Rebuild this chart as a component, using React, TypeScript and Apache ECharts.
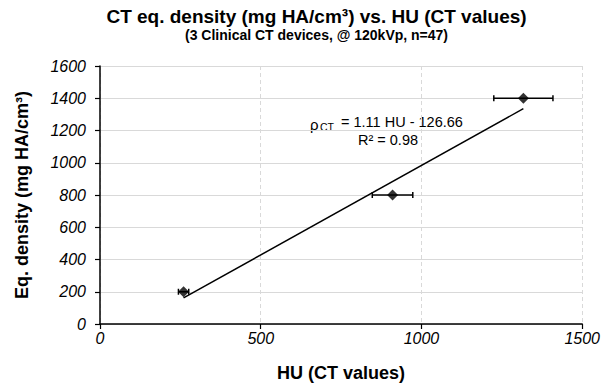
import React, { useEffect, useRef } from "react";
import * as echarts from "echarts";

const huValues = [260, 910, 1317];
const densityValues = [200, 800, 1400];
const huErrors = [16, 63, 92];
const trendSlope = 1.11;
const trendIntercept = -126.66;
const rSquared = 0.98;

const titleText = "CT eq. density (mg HA/cm³) vs. HU (CT values)";
const subtitleText = "(3 Clinical CT devices, @ 120kVp, n=47)";
const xAxisName = "HU (CT values)";
const yAxisName = "Eq. density (mg HA/cm³)";

const FONT = "Arial, 'Liberation Sans', sans-serif";

export default function App() {
  const ref = useRef<HTMLDivElement>(null);

  useEffect(() => {
    document.body.style.margin = "0";
    const chart = echarts.init(ref.current!, null, { renderer: "svg" });

    const points = huValues.map((x, i) => [x, densityValues[i]]);
    const errData = huValues.map((x, i) => [x, densityValues[i], huErrors[i]]);
    const xMin = Math.min(...huValues);
    const xMax = Math.max(...huValues);
    const trend = [
      [xMin, trendSlope * xMin + trendIntercept],
      [xMax, trendSlope * xMax + trendIntercept],
    ];

    const txt = (x: number, y: number, text: string, size: number, extra: any = {}) => ({
      type: "text",
      x,
      y,
      style: {
        text,
        fontFamily: FONT,
        fontSize: size,
        fill: "#000",
        align: "left",
        verticalAlign: "middle",
        ...extra,
      },
    });

    const italicLabel = {
      fontFamily: FONT,
      fontSize: 16,
      fontStyle: "oblique",
      color: "#000",
      formatter: (v: number) => String(v),
    };

    chart.setOption({
      animation: false,
      backgroundColor: "#fff",
      textStyle: { fontFamily: FONT },
      grid: { left: 100, top: 66, width: 485, height: 258, containLabel: false },
      xAxis: {
        type: "value",
        min: 0,
        max: 1500,
        interval: 500,
        name: xAxisName,
        nameLocation: "middle",
        nameGap: 40,
        nameTextStyle: { fontFamily: FONT, fontSize: 18, fontWeight: "bold", color: "#000" },
        axisLine: { onZero: false, lineStyle: { color: "#000", width: 1.5 } },
        axisTick: { show: true, inside: false, length: 5, lineStyle: { color: "#000", width: 1.2 } },
        axisLabel: { ...italicLabel, margin: 6 },
        splitLine: { show: true, lineStyle: { color: "#d9d9d9", type: [4, 3], width: 1 } },
      },
      yAxis: {
        type: "value",
        min: 0,
        max: 1600,
        interval: 200,
        name: yAxisName,
        nameLocation: "middle",
        nameGap: 69,
        nameTextStyle: { fontFamily: FONT, fontSize: 18, fontWeight: "bold", color: "#000" },
        axisLine: { show: true, onZero: false, lineStyle: { color: "#000", width: 1.5 } },
        axisTick: { show: true, inside: false, length: 5, lineStyle: { color: "#000", width: 1.2 } },
        axisLabel: { ...italicLabel, margin: 14 },
        splitLine: { show: true, lineStyle: { color: "#d9d9d9", width: 1 } },
      },
      graphic: [
        txt(316.5, 16, titleText, 19, { fontWeight: "bold", align: "center" }),
        txt(316.5, 35, subtitleText, 14, { fontWeight: "bold", align: "center" }),
        txt(310, 124, "ρ", 15),
        txt(320, 126.5, "CT", 10.5),
        txt(341, 122, `= ${trendSlope.toFixed(2)} HU - ${Math.abs(trendIntercept).toFixed(2)}`, 14.5),
        txt(388, 140, `R² = ${rSquared.toFixed(2)}`, 14.5, { align: "center" }),
      ],
      series: [
        {
          type: "line",
          data: trend,
          showSymbol: false,
          symbol: "none",
          lineStyle: { color: "#000", width: 1.5 },
          z: 2,
        },
        {
          type: "custom",
          data: errData,
          z: 3,
          renderItem: (params: any, api: any) => {
            const x = api.value(0);
            const y = api.value(1);
            const e = api.value(2);
            const p1 = api.coord([x - e, y]);
            const p2 = api.coord([x + e, y]);
            const cap = 3;
            const st = { stroke: "#000", lineWidth: 1.5 };
            return {
              type: "group",
              children: [
                { type: "line", shape: { x1: p1[0], y1: p1[1], x2: p2[0], y2: p2[1] }, style: st },
                { type: "line", shape: { x1: p1[0], y1: p1[1] - cap, x2: p1[0], y2: p1[1] + cap }, style: st },
                { type: "line", shape: { x1: p2[0], y1: p2[1] - cap, x2: p2[0], y2: p2[1] + cap }, style: st },
              ],
            };
          },
        },
        {
          type: "scatter",
          data: points,
          symbol: "diamond",
          symbolSize: 11,
          itemStyle: { color: "#000" },
          z: 4,
        },
      ],
    });

    return () => chart.dispose();
  }, []);

  return <div ref={ref} style={{ width: 603, height: 387 }} />;
}
